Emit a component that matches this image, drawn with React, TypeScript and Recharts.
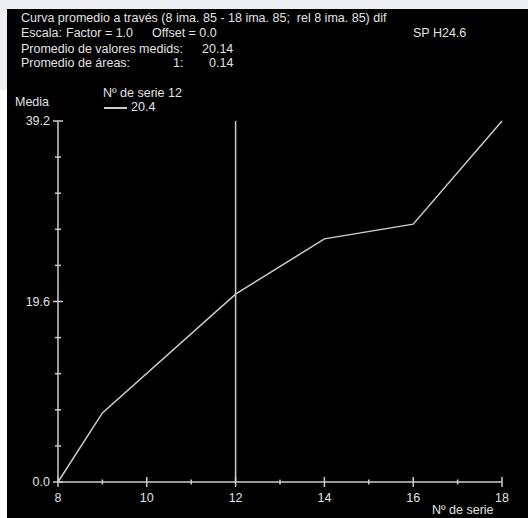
import React from "react";
import { LineChart, Line, XAxis, YAxis, ReferenceLine } from "recharts";

// serie (x) y media (y)
const serie = [8, 9, 12, 14, 16, 18];
const media = [0, 7.5, 20.4, 26.4, 28.0, 39.2];

const xTicks = [8, 9, 10, 11, 12, 13, 14, 15, 16, 17, 18];
const xLabels = [8, 10, 12, 14, 16, 18];
const yTicks = [0, 3.92, 7.84, 11.76, 15.68, 19.6, 23.52, 27.44, 31.36, 35.28, 39.2];
const yLabels = [0, 19.6, 39.2];

const data = serie.map((s, i) => ({ serie: s, media: media[i] }));

const FG = "#e2e2e2";
const LINE = "#cccccc";
const FONT = "'Liberation Sans', Arial, sans-serif";

function XTick(props: any) {
  const { x, y, payload } = props;
  const major = xLabels.includes(payload.value);
  const h = major ? 5 : 2.5;
  return (
    <g>
      <line x1={x} x2={x} y1={y - h} y2={y + h} stroke={LINE} strokeWidth={1.5} />
      {major && (
        <text x={x} y={y + 20} textAnchor="middle" fill={FG} fontSize={12.5} fontFamily={FONT}>
          {payload.value}
        </text>
      )}
    </g>
  );
}

function YTick(props: any) {
  const { x, y, payload } = props;
  const major = yLabels.some((v) => Math.abs(v - payload.value) < 0.01);
  const w = major ? 5 : 3;
  return (
    <g>
      <line x1={x - w} x2={x + w} y1={y} y2={y} stroke={LINE} strokeWidth={1.5} />
      {major && (
        <text x={x - 8} y={y + 4} textAnchor="end" fill={FG} fontSize={12.5} fontFamily={FONT}>
          {payload.value.toFixed(1)}
        </text>
      )}
    </g>
  );
}

const txt = (left: number, top: number, s: string) => (
  <div
    style={{
      position: "absolute",
      left,
      top,
      color: FG,
      fontSize: 12.5,
      fontFamily: FONT,
      whiteSpace: "pre",
      lineHeight: "14px",
    }}
  >
    {s}
  </div>
);

export default function App() {
  return (
    <div style={{ position: "fixed", left: 0, top: 0, width: 528, height: 518, background: "#ffffff" }}>
      <div style={{ position: "absolute", left: 0, top: 0, width: 528, height: 9, background: "#eeeff3" }} />
      <div style={{ position: "absolute", left: 0, top: 0, width: 7, height: 90, background: "#eeeff3" }} />
      <div style={{ position: "absolute", left: 7, top: 9, width: 521, height: 509, background: "#000000" }}>
        <LineChart
          width={521}
          height={509}
          data={data}
          margin={{ top: 112, right: 26, bottom: 0, left: 0 }}
        >
          <XAxis
            dataKey="serie"
            type="number"
            domain={[8, 18]}
            ticks={xTicks}
            interval={0}
            height={36}
            axisLine={{ stroke: LINE, strokeWidth: 1.5 }}
            tickLine={false}
            tickSize={0}
            tickMargin={0}
            tick={<XTick />}
          />
          <YAxis
            type="number"
            domain={[0, 39.2]}
            ticks={yTicks}
            interval={0}
            width={51}
            axisLine={{ stroke: LINE, strokeWidth: 1.5 }}
            tickLine={false}
            tickSize={0}
            tickMargin={0}
            tick={<YTick />}
          />
          <ReferenceLine x={12} stroke={LINE} strokeWidth={1.5} />
          <Line
            type="linear"
            dataKey="media"
            stroke={LINE}
            strokeWidth={1.5}
            dot={false}
            isAnimationActive={false}
          />
        </LineChart>
      </div>
      {txt(21, 11, "Curva promedio a través (8 ima. 85 - 18 ima. 85;  rel 8 ima. 85) dif")}
      {txt(21, 26, "Escala:")}
      {txt(66, 26, "Factor = 1.0")}
      {txt(152, 26, "Offset = 0.0")}
      {txt(413, 26, "SP H24.6")}
      {txt(21, 42, "Promedio de valores medids:")}
      {txt(202, 42, "20.14")}
      {txt(21, 56, "Promedio de áreas:")}
      {txt(173, 56, "1:")}
      {txt(209, 56, "0.14")}
      {txt(103, 86, "Nº de serie 12")}
      <div style={{ position: "absolute", left: 104, top: 107, width: 23, height: 1.5, background: LINE }} />
      {txt(131, 100, "20.4")}
      {txt(15, 95, "Media")}
      {txt(432, 503, "Nº de serie")}
    </div>
  );
}
